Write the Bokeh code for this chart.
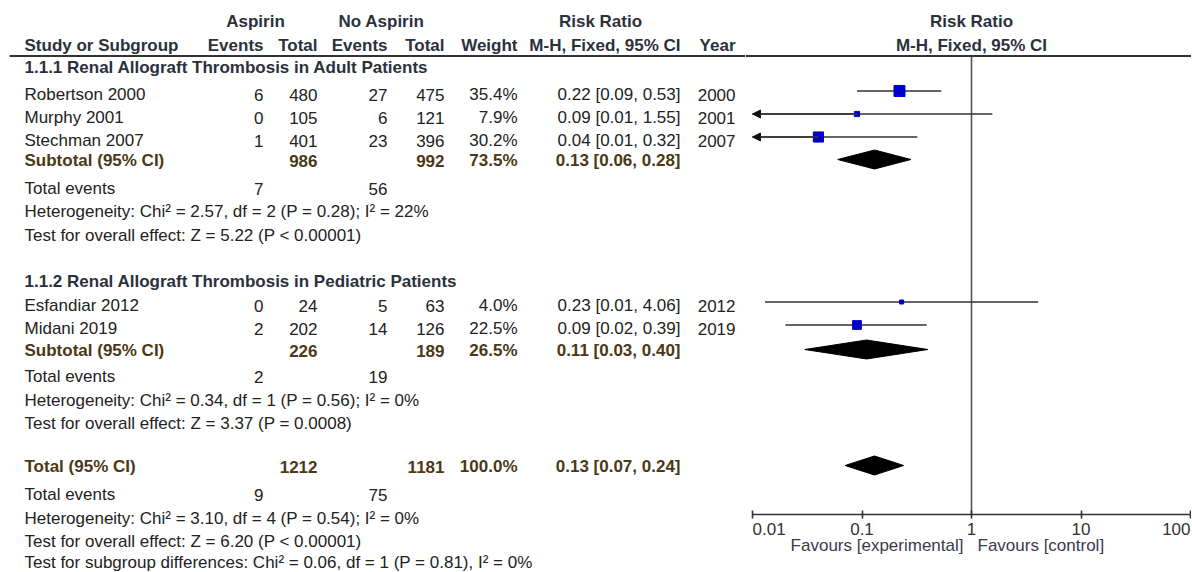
import math
from bokeh.plotting import figure
from bokeh.layouts import row
from bokeh.models import Range1d, ColumnDataSource, FixedTicker, Arrow, NormalHead
from bokeh.core.properties import value, field
from bokeh.embed import file_html
from bokeh.resources import INLINE

# ---------------- data ----------------
group_titles = ["1.1.1 Renal Allograft Thrombosis in Adult Patients",
                "1.1.2 Renal Allograft Thrombosis in Pediatric Patients"]
studies = ["Robertson 2000", "Murphy 2001", "Stechman 2007", "Esfandiar 2012", "Midani 2019"]
study_group = [0, 0, 0, 1, 1]
asp_events = [6, 0, 1, 0, 2]
asp_total = [480, 105, 401, 24, 202]
ctl_events = [27, 6, 23, 5, 14]
ctl_total = [475, 121, 396, 63, 126]
weights = [35.4, 7.9, 30.2, 4.0, 22.5]
rr = [0.22, 0.09, 0.04, 0.23, 0.09]
rr_lo = [0.09, 0.006, 0.006, 0.013, 0.02]
rr_hi = [0.53, 1.55, 0.32, 4.06, 0.39]
years = [2000, 2001, 2007, 2012, 2019]

sub_asp_total = [986, 226]
sub_ctl_total = [992, 189]
sub_weight = [73.5, 26.5]
sub_rr = [0.13, 0.11]
sub_lo = [0.06, 0.03]
sub_hi = [0.28, 0.40]
sub_asp_events = [7, 2]
sub_ctl_events = [56, 19]
sub_het = ["Heterogeneity: Chi\u00b2 = 2.57, df = 2 (P = 0.28); I\u00b2 = 22%",
           "Heterogeneity: Chi\u00b2 = 0.34, df = 1 (P = 0.56); I\u00b2 = 0%"]
sub_test = ["Test for overall effect: Z = 5.22 (P < 0.00001)",
            "Test for overall effect: Z = 3.37 (P = 0.0008)"]

tot_asp_total = 1212
tot_ctl_total = 1181
tot_weight = 100.0
tot_rr = 0.13
tot_lo = 0.07
tot_hi = 0.24
tot_asp_events = 9
tot_ctl_events = 75
tot_het = "Heterogeneity: Chi\u00b2 = 3.10, df = 4 (P = 0.54); I\u00b2 = 0%"
tot_test = "Test for overall effect: Z = 6.20 (P < 0.00001)"
tot_subgroup = "Test for subgroup differences: Chi\u00b2 = 0.06, df = 1 (P = 0.81), I\u00b2 = 0%"

tick_values = [0.01, 0.1, 1, 10, 100]
tick_labels = ["0.01", "0.1", "1", "10", "100"]
favours = ["Favours [experimental]", "Favours [control]"]

# ---------------- layout / style ----------------
FONT = value("Liberation Sans")
FS = "17px"
C_TEXT = "#222222"
C_HEAD = "#2b313c"
C_SUB = "#4b3815"
C_SQ = "#0000c8"
C_LINE = "#333333"

W_TABLE, W_FOREST, H = 745, 446, 571

# row centre positions (page pixels)
Y_H1, Y_H2, Y_RULE = 21, 45, 55.5
grp_title_y = [67, 281]
study_y = [94, 117, 140, 305, 328]
sub_y = [160, 350]
sub_ev_y = [188, 376]
sub_het_y = [211, 400]
sub_test_y = [235, 423]
tot_y, tot_ev_y, tot_het_y, tot_test_y, tot_sg_y = 466, 494, 518, 541, 562
AXIS_Y = 514
TICKLAB_Y = 528
FAV_Y = 545

# column anchors
X_NAME = 24
X_AE, X_AT, X_CE, X_CT, X_W, X_CI, X_YR = 263, 317, 387, 444, 517, 680, 735

yr = Range1d(H, 0)

# ---------------- table figure ----------------
pt = figure(width=W_TABLE, height=H, x_range=Range1d(0, W_TABLE), y_range=yr,
            output_backend="svg", toolbar_location=None, min_border=0,
            x_axis_location=None, y_axis_location=None)
pt.grid.visible = False
pt.outline_line_color = None

T = dict(x=[], y=[], t=[], align=[], style=[], color=[])


def add(x, y, t, align="left", bold=False, color=C_TEXT):
    T["x"].append(x)
    T["y"].append(y)
    T["t"].append(str(t))
    T["align"].append(align)
    T["style"].append("bold" if bold else "normal")
    T["color"].append(color)


def ci(r, lo, hi):
    return f"{r:.2f} [{lo:.2f}, {hi:.2f}]"


# headers
add(255, Y_H1, "Aspirin", "center", True, C_HEAD)
add(381, Y_H1, "No Aspirin", "center", True, C_HEAD)
add(600, Y_H1, "Risk Ratio", "center", True, C_HEAD)
add(X_NAME, Y_H2, "Study or Subgroup", "left", True, C_HEAD)
for x, t in [(X_AE, "Events"), (X_AT, "Total"), (X_CE, "Events"), (X_CT, "Total"),
             (X_W, "Weight"), (X_CI, "M-H, Fixed, 95% CI"), (X_YR, "Year")]:
    add(x, Y_H2, t, "right", True, C_HEAD)

for g in range(2):
    add(X_NAME, grp_title_y[g], group_titles[g], "left", True, C_HEAD)
for i, name in enumerate(studies):
    y = study_y[i]
    add(X_NAME, y, name)
    add(X_AE, y, asp_events[i], "right")
    add(X_AT, y, asp_total[i], "right")
    add(X_CE, y, ctl_events[i], "right")
    add(X_CT, y, ctl_total[i], "right")
    add(X_W, y, f"{weights[i]:.1f}%", "right")
    add(X_CI, y, ci(rr[i], rr_lo[i], rr_hi[i]), "right")
    add(X_YR, y, years[i], "right")
for g in range(2):
    y = sub_y[g]
    add(X_NAME, y, "Subtotal (95% CI)", "left", True, C_SUB)
    add(X_AT, y, sub_asp_total[g], "right", True, C_SUB)
    add(X_CT, y, sub_ctl_total[g], "right", True, C_SUB)
    add(X_W, y, f"{sub_weight[g]:.1f}%", "right", True, C_SUB)
    add(X_CI, y, ci(sub_rr[g], sub_lo[g], sub_hi[g]), "right", True, C_SUB)
    add(X_NAME, sub_ev_y[g], "Total events")
    add(X_AE, sub_ev_y[g], sub_asp_events[g], "right")
    add(X_CE, sub_ev_y[g], sub_ctl_events[g], "right")
    add(X_NAME, sub_het_y[g], sub_het[g])
    add(X_NAME, sub_test_y[g], sub_test[g])

add(X_NAME, tot_y, "Total (95% CI)", "left", True, C_SUB)
add(X_AT, tot_y, tot_asp_total, "right", True, C_SUB)
add(X_CT, tot_y, tot_ctl_total, "right", True, C_SUB)
add(X_W, tot_y, f"{tot_weight:.1f}%", "right", True, C_SUB)
add(X_CI, tot_y, ci(tot_rr, tot_lo, tot_hi), "right", True, C_SUB)
add(X_NAME, tot_ev_y, "Total events")
add(X_AE, tot_ev_y, tot_asp_events, "right")
add(X_CE, tot_ev_y, tot_ctl_events, "right")
add(X_NAME, tot_het_y, tot_het)
add(X_NAME, tot_test_y, tot_test)
add(X_NAME, tot_sg_y, tot_subgroup)

pt.text(x="x", y="y", text="t", source=ColumnDataSource(T),
        text_align=field("align"), text_font_style=field("style"),
        text_color=field("color"), text_font=FONT, text_font_size=FS,
        text_baseline="middle")
pt.segment(x0=[9], y0=[Y_RULE], x1=[W_TABLE], y1=[Y_RULE], line_color=C_LINE, line_width=2)

# ---------------- forest figure ----------------
X_LO_PX = 7            # where 0.01 sits inside the forest panel
PX_DEC = (W_FOREST - 1 - X_LO_PX) / 4.0
fx0 = 10 ** (-2 - X_LO_PX / PX_DEC)
fx1 = 10 ** (2 + 1 / PX_DEC)
pf = figure(width=W_FOREST, height=H, x_axis_type="log", x_range=Range1d(fx0, fx1), y_range=yr,
            output_backend="svg", toolbar_location=None, min_border=0,
            y_axis_location=None)
pf.grid.visible = False
pf.outline_line_color = None

ax = pf.xaxis[0]
ax.fixed_location = AXIS_Y
ax.ticker = FixedTicker(ticks=tick_values)
ax.bounds = (tick_values[0], tick_values[-1])
ax.axis_line_color = C_LINE
ax.axis_line_width = 1.6
ax.major_tick_line_color = C_LINE
ax.major_tick_line_width = 1.6
ax.major_tick_in = 4
ax.major_tick_out = 4
ax.minor_tick_line_color = None
ax.major_label_text_font_size = "0px"
ax.major_label_text_alpha = 0

# tick labels (end labels kept inside the panel as in the reference)
tick_align = ["left", "center", "center", "center", "right"]
pf.text(x="x", y="y", text="t", text_align=field("a"),
        source=ColumnDataSource(dict(x=tick_values, y=[TICKLAB_Y] * len(tick_values),
                                     t=tick_labels, a=tick_align)),
        text_baseline="middle", text_font=FONT, text_font_size=FS, text_color="#333333")

lo_lim, hi_lim = tick_values[0], tick_values[-1]

# header rule and null line
pf.segment(x0=[fx0], y0=[Y_RULE], x1=[fx1], y1=[Y_RULE], line_color=C_LINE, line_width=2)
pf.segment(x0=[1], y0=[Y_RULE + 1], x1=[1], y1=[AXIS_Y], line_color="#555555", line_width=1.6)

# study CIs
sy = [y - 3.5 for y in study_y]
x0s = [max(l, lo_lim) for l in rr_lo]
x1s = [min(h, hi_lim) for h in rr_hi]
pf.segment(x0=x0s, y0=sy, x1=x1s, y1=sy, line_color=C_LINE, line_width=1.6)

arr = dict(xs=[], xe=[], y=[])
for i in range(len(studies)):
    if rr_lo[i] < lo_lim:
        arr["xs"].append(rr[i])
        arr["xe"].append(lo_lim)
        arr["y"].append(sy[i])
pf.add_layout(Arrow(end=NormalHead(size=8, fill_color="#111111", line_color="#111111", line_width=1),
                    x_start="xs", y_start="y", x_end="xe", y_end="y",
                    line_color=C_LINE, line_width=1.6, source=ColumnDataSource(arr)))

sizes = [max(4.0, 1.85 * math.sqrt(w)) for w in weights]
pf.scatter(x=rr, y=sy, marker="square", size=sizes, fill_color=C_SQ, line_color=C_SQ)

# diamonds
DH = 9.5
d_r = sub_rr + [tot_rr]
d_lo = sub_lo + [tot_lo]
d_hi = sub_hi + [tot_hi]
d_y = [y - 1 for y in sub_y + [tot_y]]
pf.patches(xs=[[l, r, h, r] for l, r, h in zip(d_lo, d_r, d_hi)],
           ys=[[y, y - DH, y, y + DH] for y in d_y],
           fill_color="black", line_color="black", line_width=1)

# header texts over forest
pf.text(x=[1, 1], y=[Y_H1, Y_H2], text=["Risk Ratio", "M-H, Fixed, 95% CI"],
        text_align="center", text_baseline="middle", text_font=FONT,
        text_font_size=FS, text_font_style="bold", text_color=C_HEAD)
pf.text(x=[1], y=[FAV_Y], text=[favours[0]], text_align="right", x_offset=-8,
        text_baseline="middle", text_font=FONT, text_font_size=FS, text_color="#3a3a50")
pf.text(x=[1], y=[FAV_Y], text=[favours[1]], text_align="left", x_offset=6,
        text_baseline="middle", text_font=FONT, text_font_size=FS, text_color="#3a3a50")

layout = row(pt, pf)
open("out.html", "w").write(file_html(layout, INLINE))
